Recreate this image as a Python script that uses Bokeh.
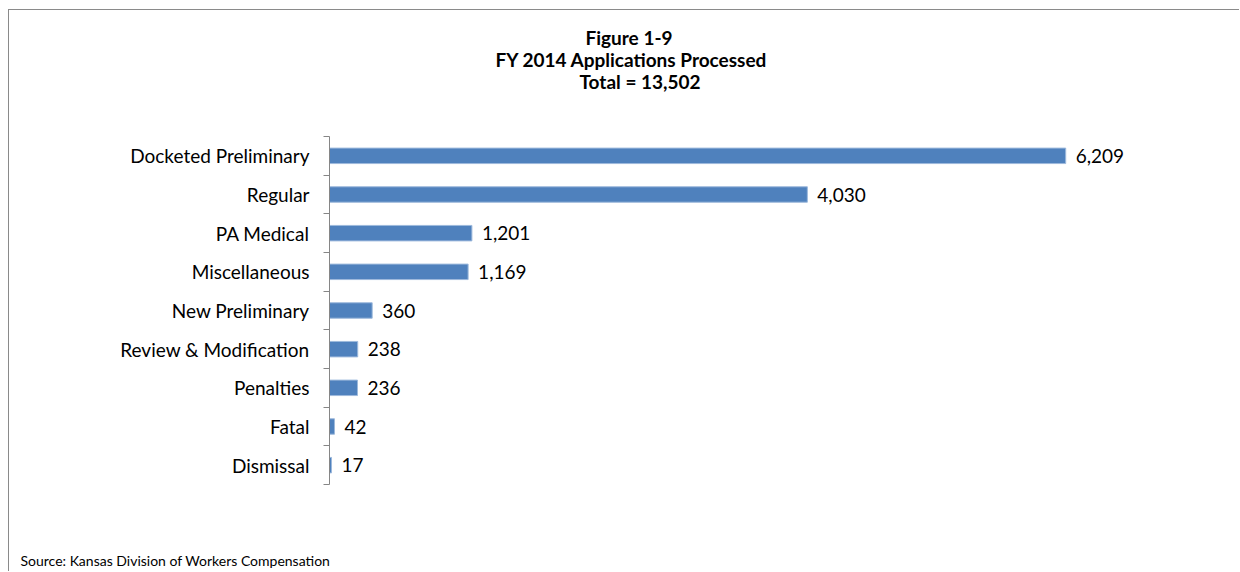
from bokeh.plotting import figure
from bokeh.models import Range1d, FixedTicker, Title, ColumnDataSource
from bokeh.embed import file_html
from bokeh.resources import INLINE
from bokeh.core.properties import value

categories = ["Docketed Preliminary", "Regular", "PA Medical", "Miscellaneous",
              "New Preliminary", "Review & Modification", "Penalties", "Fatal", "Dismissal"]
counts = [6209, 4030, 1201, 1169, 360, 238, 236, 42, 17]
title_lines = ["Figure 1-9", "FY 2014 Applications Processed", "Total = 13,502"]
source_note = "Source: Kansas Division of Workers Compensation"

FONT = "Lato"
BAR = "#4F81BD"
AXIS = "#868686"

pos = [i + 0.5 for i in range(len(categories))]
src = ColumnDataSource(dict(cat=categories, count=counts, y=pos,
                            label=[f"{c:,}" for c in counts]))

p = figure(width=1231, height=562, output_backend="svg", toolbar_location=None,
           x_range=Range1d(0, 7000), y_range=Range1d(len(categories), 0),
           min_border_left=320, min_border_right=81, min_border_top=126,
           min_border_bottom=88)
p.styles = {"margin-left": "8px", "margin-top": "9px",
            "border-left": "1px solid #8a8a8a", "border-top": "1px solid #8a8a8a"}
p.outline_line_color = None
p.xgrid.visible = False
p.ygrid.visible = False
p.xaxis.visible = False

p.hbar(y="y", left=0, right="count", height=0.4, source=src,
       fill_color=BAR, line_color="#9DB9DC", line_width=1)
p.text(x="count", y="y", text="label", source=src, x_offset=10,
       text_baseline="middle", text_align="left", text_font=value(FONT),
       text_font_size="19px", text_color="black")

ya = p.yaxis[0]
ya.ticker = FixedTicker(ticks=pos, minor_ticks=list(range(len(categories) + 1)))
ya.major_label_overrides = {y: c for y, c in zip(pos, categories)}
ya.major_tick_out = 0
ya.major_tick_in = 0
ya.minor_tick_out = 6
ya.minor_tick_in = 0
ya.minor_tick_line_color = AXIS
ya.axis_line_color = AXIS
ya.major_label_standoff = 14
ya.major_label_text_font = FONT
ya.major_label_text_font_size = "19px"
ya.major_label_text_color = "black"

# title block (stacked outward from the frame: spacer, last line, ..., first line)
p.add_layout(Title(text=" ", text_font_size="17px", standoff=24), "above")
title_left_offsets = [256, 166, 250]
for t, off in reversed(list(zip(title_lines, title_left_offsets))):
    p.add_layout(Title(text=t, align="left", offset=off, standoff=-3,
                       text_font=FONT, text_font_size="19px", text_font_style="bold",
                       text_color="black"), "above")

# source note below
p.add_layout(Title(text=" ", text_font_size="12px", standoff=50), "below")
p.add_layout(Title(text=source_note, align="left", offset=-309, standoff=-2,
                   text_font=FONT, text_font_size="14px", text_font_style="normal",
                   text_color="black"), "below")

open("out.html", "w").write(file_html(p, INLINE))
